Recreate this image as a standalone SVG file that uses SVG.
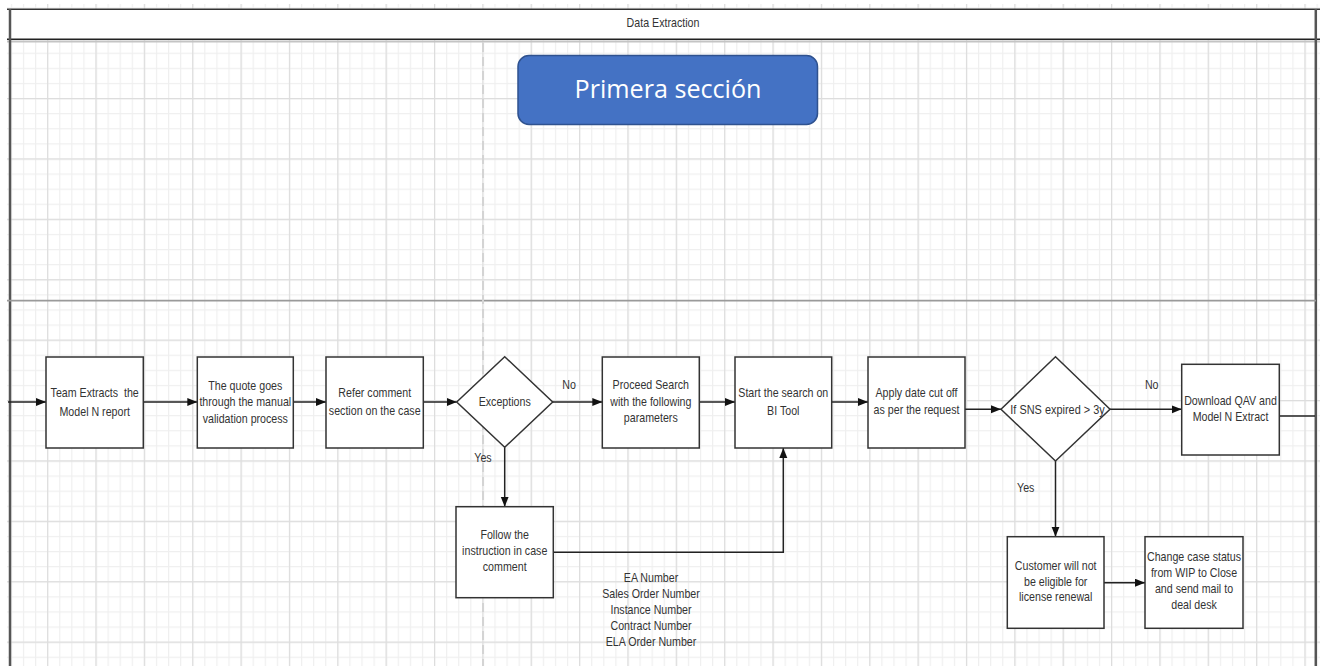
<svg xmlns="http://www.w3.org/2000/svg" width="1320" height="666" viewBox="0 0 1320 666">
  <style>
    .box { fill: #ffffff; stroke: #333333; stroke-width: 1.5; }
    .lbl { font-family: "Liberation Sans", Arial, sans-serif; font-size: 13px; fill: #333333; text-anchor: middle; }
    .conn { fill: none; stroke: #222222; stroke-width: 1.5; }
  </style>
  <defs>
    <pattern id="gridMinor" patternUnits="userSpaceOnUse" x="-1.26" y="37.6" width="12.09" height="15.1">
      <path d="M0.6,0 V15.1 M0,0.6 H12.09" stroke="#efefef" stroke-width="1.2" fill="none"/>
    </pattern>
    <pattern id="gridMajor" patternUnits="userSpaceOnUse" x="-1.26" y="37.6" width="48.36" height="60.4">
      <path d="M0.6,0 V60.4 M0,0.6 H48.36" stroke="#dddddd" stroke-width="1.2" fill="none"/>
    </pattern>
    <marker id="arrow" markerUnits="userSpaceOnUse" markerWidth="11" markerHeight="9" refX="10" refY="4" orient="auto">
      <path d="M0,0 L10,4 L0,8 z" fill="#111111"/>
    </marker>
  </defs>

  <!-- canvas background and grid -->
  <rect x="0" y="0" width="1320" height="666" fill="#ffffff"/>
  <rect x="7" y="4" width="1313" height="662" fill="url(#gridMinor)"/>
  <rect x="7" y="4" width="1313" height="662" fill="url(#gridMajor)"/>

  <!-- pool frame with title band -->
  <g id="pool">
    <rect x="7" y="9.5" width="1313" height="30" fill="#ffffff"/>
    <line x1="7" y1="9.2" x2="1320" y2="9.2" stroke="#333333" stroke-width="1.5"/>
    <line x1="7" y1="39.2" x2="1320" y2="39.2" stroke="#222222" stroke-width="1.5"/>
    <line x1="7" y1="41.6" x2="1320" y2="41.6" stroke="#c4c4c4" stroke-width="2"/>
    <line x1="10" y1="9" x2="10" y2="666" stroke="#555555" stroke-width="2.5"/>
    <line x1="1315.8" y1="9" x2="1315.8" y2="666" stroke="#555555" stroke-width="2.5"/>
    <line x1="7" y1="300.6" x2="1316" y2="300.6" stroke="#9a9a9a" stroke-width="1.6"/>
    <line x1="483" y1="43" x2="483" y2="666" stroke="#d4d4d4" stroke-width="2" stroke-dasharray="9 5"/>
    <text class="lbl" transform="translate(663,26.5) scale(0.82,1)">Data Extraction</text>
  </g>

  <!-- section banner -->
  <g id="banner">
    <rect x="518" y="55.5" width="299.5" height="69" rx="11" ry="11" fill="#4472c4" stroke="#2f528f" stroke-width="1.5"/>
    <text x="668" y="98" font-family="'Open Sans', 'Liberation Sans', sans-serif" font-size="26" fill="#ffffff" text-anchor="middle" textLength="187" lengthAdjust="spacingAndGlyphs">Primera sección</text>
  </g>

  <!-- connectors -->
  <g id="connectors" class="conn">
    <path d="M8,402 H46" marker-end="url(#arrow)"/>
    <path d="M143.3,402 H197.3" marker-end="url(#arrow)"/>
    <path d="M293.3,402 H326" marker-end="url(#arrow)"/>
    <path d="M423.3,402 H456.7" marker-end="url(#arrow)"/>
    <path d="M552.7,402 H602.3" marker-end="url(#arrow)"/>
    <path d="M699.3,402 H735" marker-end="url(#arrow)"/>
    <path d="M831.7,402 H868" marker-end="url(#arrow)"/>
    <path d="M965,409.3 H1001" marker-end="url(#arrow)"/>
    <path d="M1110,409.3 H1181.7" marker-end="url(#arrow)"/>
    <path d="M1279.3,416 H1315"/>
    <path d="M504.7,447.3 V506.7" marker-end="url(#arrow)"/>
    <path d="M553.3,552.3 H783.3 V448" marker-end="url(#arrow)"/>
    <path d="M1055.5,461 V536.7" marker-end="url(#arrow)"/>
    <path d="M1104,582.7 H1145" marker-end="url(#arrow)"/>
    <text class="lbl" stroke="none" transform="translate(569,388.5) scale(0.82,1)">No</text>
    <text class="lbl" stroke="none" transform="translate(483,461.5) scale(0.82,1)">Yes</text>
    <text class="lbl" stroke="none" transform="translate(1151.7,388.5) scale(0.82,1)">No</text>
    <text class="lbl" stroke="none" transform="translate(1025.7,491.5) scale(0.82,1)">Yes</text>
  </g>

  <!-- process steps -->
  <g id="team-extracts">
    <rect class="box" x="46" y="357" width="97.3" height="91"/>
    <text class="lbl" transform="translate(94.7,396.8) scale(0.82,1)">Team Extracts&#160; the</text>
    <text class="lbl" transform="translate(94.7,415.5) scale(0.82,1)">Model N report</text>
  </g>
  <g id="manual-validation">
    <rect class="box" x="197.3" y="357" width="96" height="91"/>
    <text class="lbl" transform="translate(245.3,389.5) scale(0.82,1)">The quote goes</text>
    <text class="lbl" transform="translate(245.3,406) scale(0.82,1)">through the manual</text>
    <text class="lbl" transform="translate(245.3,422.8) scale(0.82,1)">validation process</text>
  </g>
  <g id="refer-comment">
    <rect class="box" x="326" y="357" width="97.3" height="91"/>
    <text class="lbl" transform="translate(374.7,397) scale(0.82,1)">Refer comment</text>
    <text class="lbl" transform="translate(374.7,414.5) scale(0.82,1)">section on the case</text>
  </g>
  <g id="exceptions">
    <polygon class="box" points="456.7,402 504.7,356.7 552.7,402 504.7,447.3"/>
    <text class="lbl" transform="translate(504.7,405.5) scale(0.82,1)">Exceptions</text>
  </g>
  <g id="proceed-search">
    <rect class="box" x="602.3" y="357" width="97" height="91"/>
    <text class="lbl" transform="translate(650.8,389) scale(0.82,1)">Proceed Search</text>
    <text class="lbl" transform="translate(650.8,406) scale(0.82,1)">with the following</text>
    <text class="lbl" transform="translate(650.8,422.3) scale(0.82,1)">parameters</text>
  </g>
  <g id="bi-tool-search">
    <rect class="box" x="735" y="357" width="96.7" height="91"/>
    <text class="lbl" transform="translate(783.3,397) scale(0.82,1)">Start the search on</text>
    <text class="lbl" transform="translate(783.3,414.5) scale(0.82,1)">BI Tool</text>
  </g>
  <g id="date-cutoff">
    <rect class="box" x="868" y="357" width="97" height="91"/>
    <text class="lbl" transform="translate(916.5,397) scale(0.82,1)">Apply date cut off</text>
    <text class="lbl" transform="translate(916.5,414) scale(0.82,1)">as per the request</text>
  </g>
  <g id="sns-expired">
    <polygon class="box" points="1001,409.3 1055.5,356.7 1110,409.3 1055.5,461"/>
    <text class="lbl" transform="translate(1057.5,414) scale(0.84,1)">If SNS expired &gt; 3y</text>
  </g>
  <g id="download-qav">
    <rect class="box" x="1181.7" y="364.3" width="97.6" height="90.7"/>
    <text class="lbl" transform="translate(1230.5,404.5) scale(0.82,1)">Download QAV and</text>
    <text class="lbl" transform="translate(1230.5,420.5) scale(0.82,1)">Model N Extract</text>
  </g>
  <g id="follow-instruction">
    <rect class="box" x="456" y="506.7" width="97.3" height="91"/>
    <text class="lbl" transform="translate(504.7,539) scale(0.82,1)">Follow the</text>
    <text class="lbl" transform="translate(504.7,555.3) scale(0.82,1)">instruction in case</text>
    <text class="lbl" transform="translate(504.7,571.3) scale(0.82,1)">comment</text>
  </g>
  <g id="search-parameters">
    <text class="lbl" transform="translate(651,582) scale(0.82,1)">EA Number</text>
    <text class="lbl" transform="translate(651,598.3) scale(0.82,1)">Sales Order Number</text>
    <text class="lbl" transform="translate(651,614.3) scale(0.82,1)">Instance Number</text>
    <text class="lbl" transform="translate(651,630.3) scale(0.82,1)">Contract Number</text>
    <text class="lbl" transform="translate(651,646.3) scale(0.82,1)">ELA Order Number</text>
  </g>
  <g id="not-eligible">
    <rect class="box" x="1007.3" y="536.7" width="96.7" height="91.6"/>
    <text class="lbl" transform="translate(1055.7,569.5) scale(0.82,1)">Customer will not</text>
    <text class="lbl" transform="translate(1055.7,585.5) scale(0.82,1)">be eligible for</text>
    <text class="lbl" transform="translate(1055.7,601.3) scale(0.82,1)">license renewal</text>
  </g>
  <g id="change-status">
    <rect class="box" x="1145" y="536.7" width="98" height="91.6"/>
    <text class="lbl" transform="translate(1194,561.3) scale(0.82,1)">Change case status</text>
    <text class="lbl" transform="translate(1194,577.3) scale(0.82,1)">from WIP to Close</text>
    <text class="lbl" transform="translate(1194,593.3) scale(0.82,1)">and send mail to</text>
    <text class="lbl" transform="translate(1194,609.3) scale(0.82,1)">deal desk</text>
  </g>
</svg>
